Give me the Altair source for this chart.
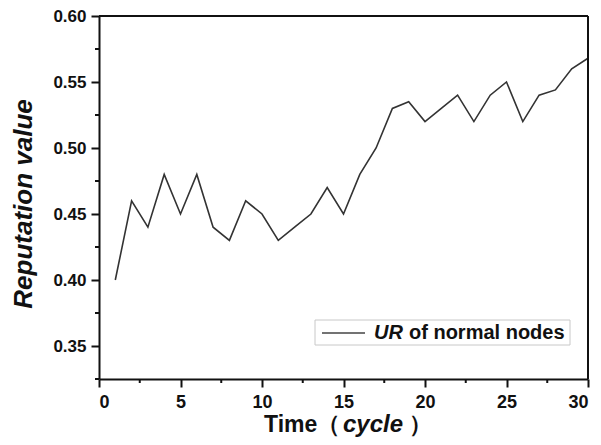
import altair as alt
import pandas as pd

cycles = list(range(1, 31))
reputation = [0.40, 0.46, 0.44, 0.48, 0.45, 0.48, 0.44, 0.43, 0.46, 0.45,
              0.43, 0.44, 0.45, 0.47, 0.45, 0.48, 0.50, 0.53, 0.535, 0.52,
              0.53, 0.54, 0.52, 0.54, 0.55, 0.52, 0.54, 0.544, 0.56, 0.568]
x_major = [0, 5, 10, 15, 20, 25, 30]
x_minor = [2.5, 7.5, 12.5, 17.5, 22.5, 27.5]
y_major = [0.35, 0.40, 0.45, 0.50, 0.55, 0.60]
y_minor = [0.325, 0.375, 0.425, 0.475, 0.525, 0.575]
series_label_italic = "UR"
series_label_rest = "of normal nodes"
y_title = "Reputation value"
x_title_parts = ["Time（", "cycle", "）"]

FONT = "Liberation Sans"
W, H = 489, 363

xscale = alt.Scale(domain=[0, 30], nice=False, zero=False)
yscale = alt.Scale(domain=[0.325, 0.60], nice=False, zero=False)

xaxis = alt.Axis(values=x_major, title=None, format="d",
                 tickSize=8, tickWidth=2, tickColor="#111111",
                 domainColor="#111111", domainWidth=2,
                 labelFont=FONT, labelFontWeight="bold", labelFontSize=18,
                 labelColor="#111111", labelPadding=6, grid=False)
yaxis = alt.Axis(values=y_major, title=None, format=".2f",
                 tickSize=8, tickWidth=2, tickColor="#111111",
                 domainColor="#111111", domainWidth=2,
                 labelFont=FONT, labelFontWeight="bold", labelFontSize=17,
                 labelColor="#111111", labelPadding=5, grid=False)

df = pd.DataFrame({"cycle": cycles, "rep": reputation})

line = alt.Chart(df).mark_line(color="#333333", strokeWidth=1.6).encode(
    x=alt.X("cycle:Q", scale=xscale, axis=xaxis),
    y=alt.Y("rep:Q", scale=yscale, axis=yaxis),
)

frame_top = alt.Chart(pd.DataFrame({"k": [0]})).mark_rule(
    color="#111111", strokeWidth=2).encode(
    x=alt.value(0), x2=alt.value(W), y=alt.value(0))
frame_right = alt.Chart(pd.DataFrame({"k": [0]})).mark_rule(
    color="#111111", strokeWidth=2).encode(
    x=alt.value(W), y=alt.value(0), y2=alt.value(H))

xminor = alt.Chart(pd.DataFrame({"cycle": x_minor})).mark_rule(color="#111111", strokeWidth=2).encode(
    x=alt.X("cycle:Q", scale=xscale, axis=xaxis),
    y=alt.value(H), y2=alt.value(H + 4),
)
yminor = alt.Chart(pd.DataFrame({"rep": y_minor})).mark_rule(color="#111111", strokeWidth=2).encode(
    y=alt.Y("rep:Q", scale=yscale, axis=yaxis),
    x=alt.value(-4), x2=alt.value(0),
)

# legend
legend_box = alt.Chart(pd.DataFrame({"k": [0]})).mark_rect(
    fill="white", stroke="#c8c8c8", strokeWidth=1).encode(
    x=alt.value(216), x2=alt.value(471), y=alt.value(304), y2=alt.value(329))
legend_line = alt.Chart(pd.DataFrame({"k": [0]})).mark_rule(
    color="#444444", strokeWidth=1.6).encode(
    x=alt.value(223), x2=alt.value(266), y=alt.value(317))
legend_t1 = alt.Chart(pd.DataFrame({"t": [series_label_italic]})).mark_text(
    font=FONT, fontSize=20, fontWeight="bold", fontStyle="italic",
    align="left", baseline="alphabetic", color="#111111").encode(
    text="t:N", x=alt.value(275), y=alt.value(323))
legend_t2 = alt.Chart(pd.DataFrame({"t": [series_label_rest]})).mark_text(
    font=FONT, fontSize=20, fontWeight="bold",
    align="left", baseline="alphabetic", color="#111111").encode(
    text="t:N", x=alt.value(310), y=alt.value(323))

# axis titles
ytitle = alt.Chart(pd.DataFrame({"t": [y_title]})).mark_text(
    font=FONT, fontSize=26, fontWeight="bold", fontStyle="italic", angle=270,
    align="center", baseline="middle", color="#111111").encode(
    text="t:N", x=alt.value(-75), y=alt.value(188))
xt1 = alt.Chart(pd.DataFrame({"t": [x_title_parts[0]]})).mark_text(
    font=FONT, fontSize=23, fontWeight="bold",
    align="left", baseline="alphabetic", color="#111111").encode(
    text="t:N", x=alt.value(165), y=alt.value(416))
xt2 = alt.Chart(pd.DataFrame({"t": [x_title_parts[1]]})).mark_text(
    font=FONT, fontSize=24, fontWeight="bold", fontStyle="italic",
    align="left", baseline="alphabetic", color="#111111").encode(
    text="t:N", x=alt.value(244), y=alt.value(416))
xt3 = alt.Chart(pd.DataFrame({"t": [x_title_parts[2]]})).mark_text(
    font=FONT, fontSize=23, fontWeight="bold",
    align="left", baseline="alphabetic", color="#111111").encode(
    text="t:N", x=alt.value(310), y=alt.value(416))

chart = alt.layer(
    line, frame_top, frame_right, xminor, yminor, legend_box, legend_line,
    legend_t1, legend_t2, ytitle, xt1, xt2, xt3
).properties(
    width=W, height=H,
    background="white",
    autosize=alt.AutoSizeParams(type="none"),
    padding={"left": 91, "top": 8, "right": 5, "bottom": 58},
).configure_view(
    strokeWidth=0
)

chart.save("out.html", embed_options={"renderer": "svg", "actions": False})
